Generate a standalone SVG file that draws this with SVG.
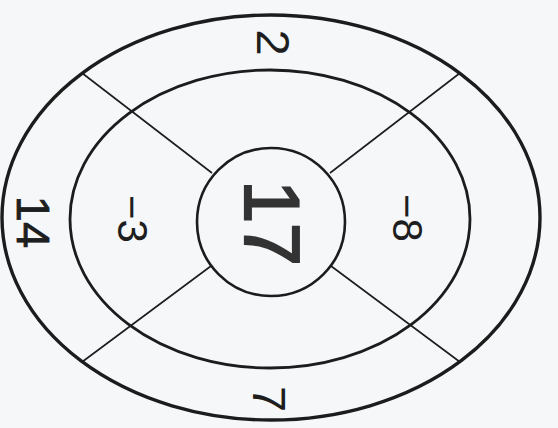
<svg xmlns="http://www.w3.org/2000/svg" width="558" height="428" viewBox="0 0 558 428">
<style>
.ring{fill:none;stroke:#1c1c1c}
.spoke{stroke:#1c1c1c;stroke-width:1.6;fill:none}
.lbl{font-family:"Liberation Sans",Arial,sans-serif;fill:#1e1e1e;text-anchor:middle}
</style>
<rect width="558" height="428" fill="#f5f7f9"/>
<g id="rings">
<ellipse id="outer" class="ring" cx="271" cy="217.5" rx="269" ry="202.5" stroke-width="3.4"/>
<ellipse id="inner" class="ring" cx="270" cy="219" rx="200" ry="149" stroke-width="2.8"/>
<circle id="center" class="ring" cx="271" cy="222" r="74" stroke-width="2.6"/>
</g>
<g id="connectors">
<line class="spoke" x1="212" y1="173" x2="82" y2="73"/>
<line class="spoke" x1="330" y1="173" x2="460" y2="73"/>
<line class="spoke" x1="331" y1="266" x2="460" y2="362"/>
<line class="spoke" x1="211" y1="266" x2="82" y2="362"/>
</g>
<g id="labels">
<g id="t2" transform="translate(274,42.5) rotate(90)"><text class="lbl" x="0" y="16.8" font-size="47">2</text></g>
<g id="t14" transform="translate(34,222) rotate(90)"><text class="lbl" x="0" y="16.8" font-size="47" stroke="#1e1e1e" stroke-width="0.8">14</text></g>
<g id="tm3" transform="translate(133,219) rotate(90)"><text class="lbl" x="0" y="15" font-size="42">−3</text></g>
<g id="t17" transform="translate(272,223) rotate(90)"><text class="lbl" x="0" y="27.5" font-size="77" style="fill:#333;stroke:#333;stroke-width:2.2">17</text></g>
<g id="tm8" transform="translate(408,218) rotate(90)"><text class="lbl" x="0" y="15" font-size="42">−8</text></g>
<g id="t7" transform="translate(270,399) rotate(90)"><text class="lbl" x="0" y="16.8" font-size="47">7</text></g>
</g>
</svg>
